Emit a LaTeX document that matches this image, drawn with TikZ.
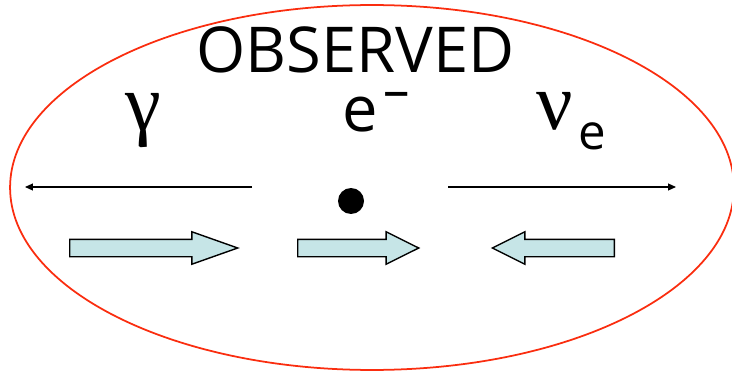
\documentclass[tikz,border=0pt]{standalone}
\usepackage{fontspec}
\setmainfont{Open Sans}
\newfontfamily\greekfont{Liberation Serif}
\usetikzlibrary{arrows.meta,shapes.geometric,shapes.arrows}
\definecolor{ovalred}{RGB}{250,45,15}
\definecolor{spincyan}{RGB}{198,229,231}

\begin{document}
\begin{tikzpicture}[
    x=0.02cm,y=-0.02cm,
    oval/.style={draw=ovalred,line width=1pt,ellipse,inner sep=0pt},
    ray/.style={-{Triangle[length=1.6mm,width=1.4mm]},line width=0.6pt},
    spin/.style={single arrow,draw,line width=0.8pt,fill=spincyan,inner xsep=0pt,inner ysep=1.6mm,
      single arrow head extend=1.5mm,minimum width=0pt,anchor=tail},
    lbl/.style={inner sep=0pt,font=\fontsize{36}{40}\selectfont},
    sub/.style={inner sep=0pt,font=\fontsize{28}{30}\selectfont},
    grk/.style={inner sep=0pt,font=\fontsize{46}{50}\selectfont\greekfont}
  ]
  \useasboundingbox (0,0) rectangle (732,371);
  \node[oval,minimum width=14.48cm,minimum height=7.3cm] (region) at (372,187.5) {};
  \node[lbl,anchor=base] (title) at (355.5,73) {OBSERVED};

  % particles
  \node[grk,anchor=base] (gamma) at (143,131) {γ};
  \node[lbl,anchor=base west] (elec) at (342,132) {e\kern1.2mm\raisebox{0.48cm}[0pt][0pt]{\fontsize{30}{30}\selectfont\textendash}};
  \node[grk,anchor=base west] (nu) at (536,130) {ν};
  \node[sub,anchor=base west] (nusub) at (578,150) {e};
  \node[circle,fill,inner sep=0pt,minimum size=5.2mm] (dot) at (351,201) {};

  % momenta
  \coordinate (gtail) at (252,187);
  \coordinate (ghead) at (25,187);
  \coordinate (ntail) at (448,187);
  \coordinate (nhead) at (676,187);
  \draw[ray] (gtail) -- (ghead);
  \draw[ray] (ntail) -- (nhead);

  % spins
  \node[spin,minimum height=33.6mm,single arrow tip angle=39] (sgamma) at (69,248) {};
  \node[spin,minimum height=24.2mm,single arrow tip angle=53] (selec) at (297,248) {};
  \node[spin,minimum height=24.4mm,single arrow tip angle=53,shape border rotate=180] (snu) at (615,248) {};
\end{tikzpicture}
\end{document}
